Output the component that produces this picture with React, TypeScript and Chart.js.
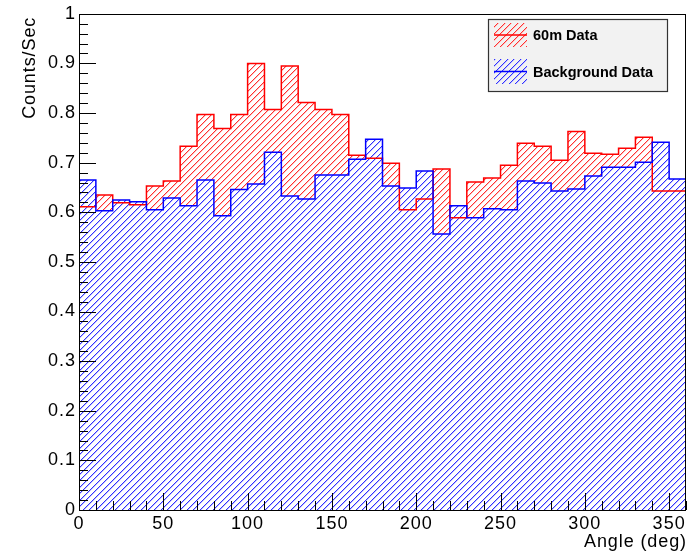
import React, { useEffect, useRef } from "react";
import { Chart, registerables } from "chart.js";

Chart.register(...registerables);

// Bin lower edges (deg), 10-degree bins from 0 to 360
const binEdges: number[] = [
  0, 10, 20, 30, 40, 50, 60, 70, 80, 90, 100, 110, 120, 130, 140, 150, 160, 170,
  180, 190, 200, 210, 220, 230, 240, 250, 260, 270, 280, 290, 300, 310, 320, 330, 340, 350,
];
const xMax = 360;

const data60m: number[] = [
  0.611, 0.635, 0.619, 0.615, 0.653, 0.663, 0.733, 0.797, 0.769, 0.797, 0.9, 0.807,
  0.895, 0.821, 0.807, 0.797, 0.715, 0.709, 0.699, 0.605, 0.627, 0.687, 0.589, 0.661,
  0.669, 0.695, 0.739, 0.733, 0.705, 0.763, 0.719, 0.717, 0.729, 0.751, 0.643, 0.643,
];
const dataBackground: number[] = [
  0.665, 0.603, 0.625, 0.621, 0.605, 0.629, 0.613, 0.665, 0.593, 0.646, 0.657, 0.721,
  0.633, 0.627, 0.675, 0.675, 0.707, 0.747, 0.653, 0.649, 0.683, 0.556, 0.613, 0.589,
  0.607, 0.605, 0.663, 0.659, 0.643, 0.647, 0.673, 0.691, 0.691, 0.701, 0.741, 0.667,
];

const xTickValues: number[] = [0, 50, 100, 150, 200, 250, 300, 350];

const seriesNames: string[] = ["60m Data", "Background Data"];
const xTitle = "Angle (deg)";
const yTitle = "Counts/Sec";

const FONT = '"Liberation Sans", Arial, Helvetica, sans-serif';

function makeHatch(strong: string, light: string, bg: string | null): CanvasPattern | string {
  const T = 13;
  const c = document.createElement("canvas");
  c.width = T;
  c.height = T;
  const g = c.getContext("2d");
  if (!g) return strong;
  if (bg) {
    g.fillStyle = bg;
    g.fillRect(0, 0, T, T);
  }
  for (let y = 0; y < T; y++) {
    for (let x = 0; x < T; x++) {
      const m = (x + y) % T;
      if (m === 0 || m === 7) {
        g.fillStyle = strong;
        g.fillRect(x, y, 1, 1);
      } else if (m === 1 || m === 8) {
        g.fillStyle = light;
        g.fillRect(x, y, 1, 1);
      }
    }
  }
  const p = g.createPattern(c, "repeat");
  return p || strong;
}

function toSteps(vals: number[]) {
  const pts = binEdges.map((x, i) => ({ x, y: vals[i] }));
  pts.push({ x: xMax, y: vals[vals.length - 1] });
  return pts;
}

export default function App() {
  const ref = useRef<HTMLCanvasElement | null>(null);

  useEffect(() => {
    document.body.style.margin = "0";
    const canvas = ref.current;
    if (!canvas) return;

    const redHatch = makeHatch("#ff3030", "#ffc0c0", null);
    const blueHatch = makeHatch("#3030ff", "#c0c0ff", "#ffffff");
    const redLegendHatch = makeHatch("#ff3030", "#ffc0c0", null);
    const blueLegendHatch = makeHatch("#3030ff", "#c0c0ff", null);

    const decor = {
      id: "rootDecor",
      beforeDraw(chart: any) {
        (chart.ctx as any).letterSpacing = "1px";
      },
      afterDraw(chart: any) {
        const ctx: CanvasRenderingContext2D = chart.ctx;
        const xs = chart.scales.x;
        const ys = chart.scales.y;
        const area = chart.chartArea;
        ctx.save();
        (ctx as any).letterSpacing = "0px";
        // frame
        ctx.strokeStyle = "#000";
        ctx.lineWidth = 1;
        ctx.strokeRect(Math.round(area.left) + 0.5, Math.round(area.top) + 0.5,
          Math.round(area.right - area.left) - 1, Math.round(area.bottom - area.top));
        // y ticks (inward)
        ctx.beginPath();
        for (let i = 0; i <= 50; i++) {
          const v = i * 0.02;
          const py = Math.round(ys.getPixelForValue(v)) + 0.5;
          const len = i % 5 === 0 ? 17 : 9;
          ctx.moveTo(area.left, py);
          ctx.lineTo(area.left + len, py);
        }
        // x ticks (inward)
        for (let i = 0; i <= 36; i++) {
          const v = i * 10;
          const px = Math.round(xs.getPixelForValue(v)) + 0.5;
          const len = i % 5 === 0 ? 17 : 9;
          ctx.moveTo(px, area.bottom);
          ctx.lineTo(px, area.bottom - len);
        }
        ctx.stroke();

        // axis titles
        ctx.fillStyle = "#000";
        ctx.font = `18px ${FONT}`;
        (ctx as any).letterSpacing = "0.9px";
        ctx.textAlign = "right";
        ctx.textBaseline = "alphabetic";
        ctx.fillText(xTitle, area.right + 1, 547);
        ctx.save();
        ctx.translate(35, area.top + 3);
        ctx.rotate(-Math.PI / 2);
        ctx.textAlign = "right";
        ctx.fillText(yTitle, 0, 0);
        ctx.restore();
        (ctx as any).letterSpacing = "0px";

        // legend
        const lx = 488, ly = 19, lw = 179, lh = 72;
        ctx.fillStyle = "#f2f2f2";
        ctx.fillRect(lx, ly, lw, lh);
        ctx.strokeStyle = "#333";
        ctx.lineWidth = 1.2;
        ctx.strokeRect(lx + 0.5, ly + 0.5, lw, lh);
        const entries = [
          { name: seriesNames[0], hatch: redLegendHatch, color: "#ff0000", y0: 23, y1: 47 },
          { name: seriesNames[1], hatch: blueLegendHatch, color: "#0000ff", y0: 59, y1: 84 },
        ];
        for (const e of entries) {
          ctx.fillStyle = e.hatch as any;
          ctx.fillRect(494, e.y0, 33, e.y1 - e.y0);
          ctx.strokeStyle = e.color;
          ctx.lineWidth = 1.5;
          ctx.beginPath();
          const my = (e.y0 + e.y1) / 2;
          ctx.moveTo(494, my);
          ctx.lineTo(527, my);
          ctx.stroke();
          ctx.fillStyle = "#000";
          ctx.font = `bold 14.5px ${FONT}`;
          ctx.textAlign = "left";
          ctx.textBaseline = "middle";
          ctx.fillText(e.name, 533, my + 1);
        }
        ctx.restore();
      },
    };

    const chart = new Chart(canvas, {
      type: "line",
      data: {
        datasets: [
          {
            label: seriesNames[0],
            data: toSteps(data60m),
            stepped: "before",
            borderColor: "#ff0000",
            borderWidth: 1.5,
            backgroundColor: redHatch as any,
            fill: "origin",
            pointRadius: 0,
            order: 1,
          },
          {
            label: seriesNames[1],
            data: toSteps(dataBackground),
            stepped: "before",
            borderColor: "#0000ff",
            borderWidth: 1.5,
            backgroundColor: blueHatch as any,
            fill: "origin",
            pointRadius: 0,
            order: 0,
          },
        ],
      },
      options: {
        animation: false,
        responsive: false,
        devicePixelRatio: 1,
        events: [],
        layout: { padding: { left: 0, top: 10, right: 8, bottom: 0 } },
        plugins: {
          legend: { display: false },
          tooltip: { enabled: false },
          filler: { drawTime: "beforeDatasetsDraw" },
        },
        scales: {
          x: {
            type: "linear",
            min: 0,
            max: xMax,
            grid: { display: false, drawTicks: false },
            border: { display: false },
            afterBuildTicks: (s: any) => {
              s.ticks = xTickValues.map((v) => ({ value: v }));
            },
            afterFit: (s: any) => {
              s.height = 44;
            },
            ticks: {
              color: "#000",
              padding: 3,
              maxRotation: 0,
              autoSkip: false,
              includeBounds: false,
              font: { family: FONT, size: 18 },
            },
          },
          y: {
            type: "linear",
            min: 0,
            max: 1,
            grid: { display: false, drawTicks: false },
            border: { display: false },
            afterFit: (s: any) => {
              s.width = 79;
            },
            ticks: {
              stepSize: 0.1,
              color: "#000",
              padding: 3,
              autoSkip: false,
              font: { family: FONT, size: 18 },
              callback: (v: any) => String(Math.round(Number(v) * 10) / 10),
            },
          },
        },
      },
      plugins: [decor],
    });

    return () => chart.destroy();
  }, []);

  return (
    <div style={{ width: 694, height: 554 }}>
      <canvas ref={ref} width={694} height={554} style={{ display: "block" }} />
    </div>
  );
}
